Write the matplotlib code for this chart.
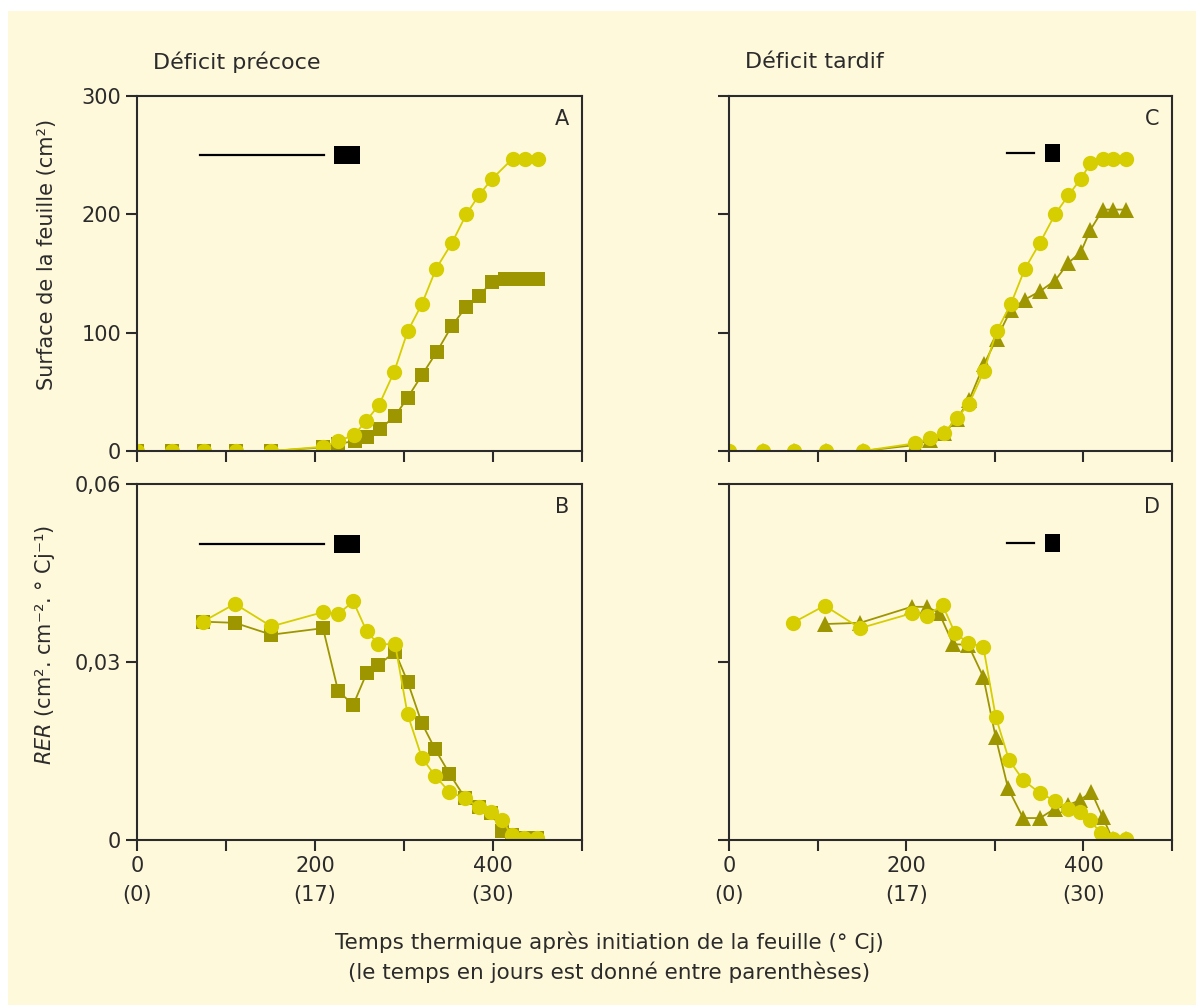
import matplotlib
matplotlib.use("Agg")
import matplotlib.pyplot as plt
from matplotlib.patches import Rectangle

# thermal time (°Cj) and leaf area (cm2) - early deficit
tt_A_ctrl = [0, 39, 75, 111, 151, 209, 226, 244, 257, 272, 289, 304, 320, 336, 354, 370, 384, 399, 422, 436, 451]
surf_A_ctrl = [0, 0, 0, 0, 0, 3.6, 8.5, 13.5, 25, 39, 67, 101, 124, 154, 176, 200, 216, 230, 247, 247, 247]
tt_A_def = [0, 39, 75, 111, 151, 209, 226, 245, 258, 273, 290, 304, 320, 337, 354, 370, 384, 399, 413, 425, 436, 451]
surf_A_def = [0, 0, 0, 0, 0, 3, 6, 8.5, 12, 18.6, 29.6, 45, 64, 84, 106, 122, 131, 143, 145, 145, 145, 145]

# RER - early deficit
tt_B = [74, 110, 151, 209, 226, 243, 258, 271, 290, 304, 320, 335, 351, 369, 384, 398, 410, 421, 435, 449]
rer_B_ctrl = [0.0368, 0.0398, 0.0360, 0.0384, 0.0381, 0.0402, 0.0352, 0.0330, 0.0330, 0.0212,
              0.0139, 0.0108, 0.0081, 0.0070, 0.0055, 0.0048, 0.0034, 0.0008, 0.0003, 0.0003]
rer_B_def = [0.0368, 0.0366, 0.0346, 0.0357, 0.0251, 0.0228, 0.0281, 0.0295, 0.0317, 0.0267,
             0.0197, 0.0153, 0.0112, 0.0070, 0.0055, 0.0045, 0.0016, 0.0008, 0.0003, 0.0003]

# leaf area - late deficit
tt_C = [0, 38, 73, 109, 151, 210, 227, 243, 257, 271, 288, 302, 318, 334, 351, 368, 383, 397, 408, 422, 433, 448]
surf_C_ctrl = [0, 0, 0, 0, 0, 6.5, 11, 15.5, 27.6, 40, 68, 101, 124, 154, 176, 200, 216, 230, 243, 247, 247, 247]
surf_C_def = [0, 0, 0, 0, 0, 5, 9.3, 15, 26.8, 43, 73.5, 95, 119, 128, 135, 144, 159, 168, 187, 204, 204, 204]

# RER - late deficit
tt_D_ctrl = [72, 108, 148, 206, 223, 241, 255, 270, 287, 301, 316, 332, 351, 368, 383, 396, 407, 420, 433, 448]
rer_D_ctrl = [0.0366, 0.0395, 0.0357, 0.0382, 0.0378, 0.0396, 0.0349, 0.0332, 0.0326, 0.0208,
              0.0135, 0.0101, 0.0079, 0.0066, 0.0053, 0.0048, 0.0034, 0.0011, 0.0001, 0.0001]
tt_D_def = [108, 148, 206, 223, 237, 253, 270, 287, 301, 315, 332, 351, 368, 383, 396, 409, 422, 433, 448]
rer_D_def = [0.0364, 0.0366, 0.0393, 0.0393, 0.0383, 0.0330, 0.0329, 0.0275, 0.0173, 0.0087,
             0.0037, 0.0037, 0.0053, 0.0059, 0.0067, 0.0081, 0.0038, 0.0001, 0.0001]

# deficit periods: (line start, line end), (block start, block end)
early_deficit = [(71, 210), (221, 250)]
late_deficit = [(314, 344), (357, 374)]

x_ticks = [0, 100, 200, 300, 400, 500]
x_ticklabels = ["0\n(0)", "", "200\n(17)", "", "400\n(30)", ""]

bg = "#fff9dc"
yellow = "#d6ce00"
olive = "#9e9600"
ink = "#2b2b2b"

fig = plt.figure(figsize=(11.96, 10.05), dpi=100)
fig.patch.set_facecolor("white")
fig.patches.append(Rectangle((8 / 1196, 0), 1, 1 - 11 / 1005, transform=fig.transFigure,
                             facecolor=bg, edgecolor="none", zorder=-10))

W, H = 1196, 1005


def make_ax(left, top, right, bottom):
    ax = fig.add_axes([left / W, 1 - bottom / H, (right - left) / W, (bottom - top) / H])
    ax.set_facecolor(bg)
    for s in ax.spines.values():
        s.set_linewidth(1.5)
        s.set_color(ink)
    ax.tick_params(direction="out", length=8, width=1.5, color=ink, labelsize=15,
                   labelcolor=ink, top=False, right=False)
    ax.set_xlim(0, 500)
    ax.set_xticks(x_ticks)
    return ax


axA = make_ax(137, 96, 582, 451)
axB = make_ax(137, 484, 582, 840)
axC = make_ax(729, 96, 1172, 451)
axD = make_ax(729, 484, 1172, 840)

for ax in (axA, axC):
    ax.set_ylim(0, 300)
    ax.set_yticks([0, 100, 200, 300])
    ax.set_xticklabels([])
    ax.tick_params(axis="x", labelbottom=False)
for ax in (axB, axD):
    ax.set_ylim(0, 0.06)
    ax.set_yticks([0, 0.03, 0.06])
    ax.set_xticklabels(x_ticklabels, linespacing=1.55)
axA.set_yticklabels(["0", "100", "200", "300"])
axB.set_yticklabels(["0", "0,03", "0,06"])
for ax in (axC, axD):
    ax.set_yticklabels([])

line_kw = dict(linewidth=1.3, markeredgewidth=0)

# early deficit
axA.plot(tt_A_def, surf_A_def, color=olive, marker="s", markersize=10, **line_kw)
axA.plot(tt_A_ctrl, surf_A_ctrl, color=yellow, marker="o", markersize=11, **line_kw)
axB.plot(tt_B, rer_B_def, color=olive, marker="s", markersize=10, **line_kw)
axB.plot(tt_B, rer_B_ctrl, color=yellow, marker="o", markersize=11, **line_kw)

# late deficit
axC.plot(tt_C, surf_C_def, color=olive, marker="^", markersize=12, **line_kw)
axC.plot(tt_C, surf_C_ctrl, color=yellow, marker="o", markersize=11, **line_kw)
axD.plot(tt_D_def, rer_D_def, color=olive, marker="^", markersize=12, **line_kw)
axD.plot(tt_D_ctrl, rer_D_ctrl, color=yellow, marker="o", markersize=11, **line_kw)

# deficit period bars
for ax, period, yv, hgt in [(axA, early_deficit, 250, 15), (axB, early_deficit, 0.0499, 0.003),
                            (axC, late_deficit, 252, 15), (axD, late_deficit, 0.050, 0.003)]:
    (l0, l1), (b0, b1) = period
    ax.plot([l0, l1], [yv, yv], color="black", linewidth=1.6)
    ax.add_patch(Rectangle((b0, yv - hgt / 2), b1 - b0, hgt, facecolor="black", edgecolor="none"))

for ax, lab in zip((axA, axB, axC, axD), "ABCD"):
    ax.text(0.955, 0.935, lab, transform=ax.transAxes, ha="center", va="center",
            fontsize=15, color=ink)

axA.set_ylabel("Surface de la feuille (cm²)", fontsize=15, color=ink)
axA.yaxis.set_label_coords(-0.18, 0.555)
axB.set_ylabel(r"$\mathit{RER}$ (cm². cm⁻². ° Cj⁻¹)", fontsize=15, color=ink)
axB.yaxis.set_label_coords(-0.18, 0.548)

fig.text(153 / W, 1 - 62 / H, "Déficit précoce", fontsize=16, color=ink, va="center")
fig.text(745 / W, 1 - 62 / H, "Déficit tardif", fontsize=16, color=ink, va="center")

fig.text(609 / W, 1 - 942 / H, "Temps thermique après initiation de la feuille (° Cj)",
         fontsize=15.5, color=ink, ha="center", va="center")
fig.text(609 / W, 1 - 972 / H, "(le temps en jours est donné entre parenthèses)",
         fontsize=15.5, color=ink, ha="center", va="center")

fig.savefig("out.png", dpi=100, facecolor=fig.get_facecolor())
